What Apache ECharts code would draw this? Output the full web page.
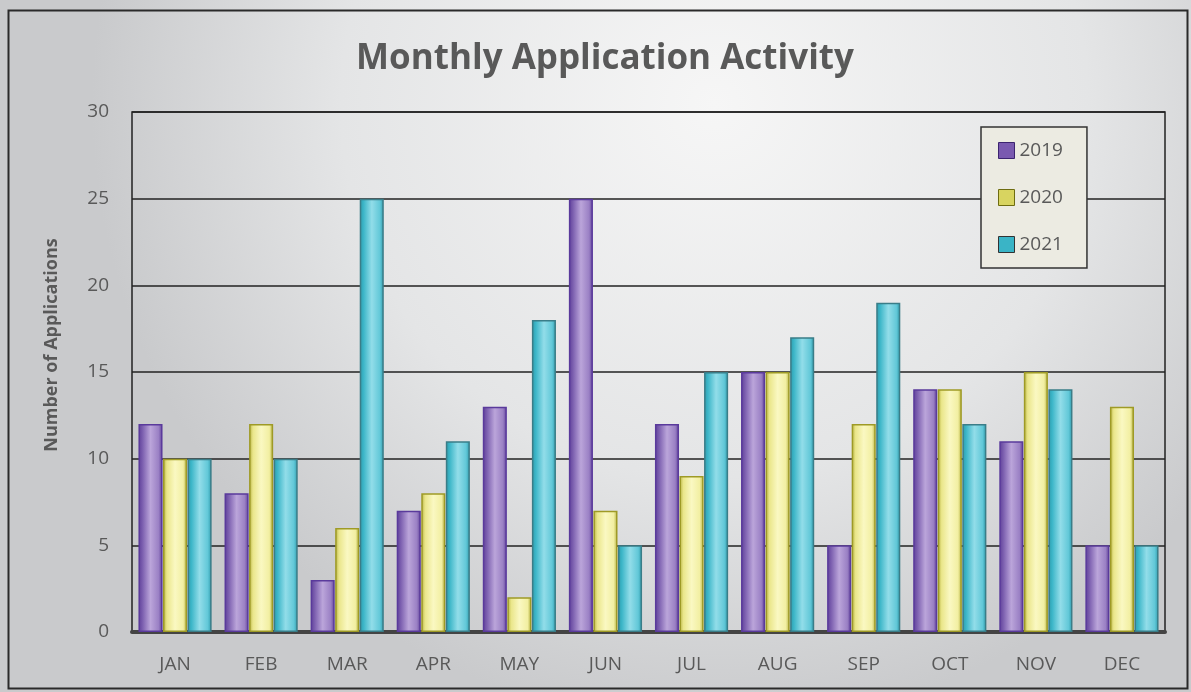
<!DOCTYPE html>
<html><head><meta charset="utf-8">
<script src="https://cdn.jsdelivr.net/npm/echarts@6/dist/echarts.min.js"></script>
<style>html,body{margin:0;padding:0;}#c{width:1191px;height:692px;}</style>
</head><body><div id="c"></div>
<script>
const months = ['JAN','FEB','MAR','APR','MAY','JUN','JUL','AUG','SEP','OCT','NOV','DEC'];
const s2019 = [12, 8, 3, 7, 13, 25, 12, 15, 5, 14, 11, 5];
const s2020 = [10, 12, 6, 8, 2, 7, 9, 15, 12, 14, 15, 13];
const s2021 = [10, 10, 25, 11, 18, 5, 15, 17, 19, 12, 14, 5];
const yTicks = [0, 5, 10, 15, 20, 25, 30];
const yAxisTitle = 'Number of Applications';

function grad(dark, mid, light, edge) {
  return new echarts.graphic.LinearGradient(0, 0, 1, 0, [
    {offset: 0, color: edge},
    {offset: 0.16, color: dark},
    {offset: 0.5, color: light},
    {offset: 0.84, color: mid},
    {offset: 1, color: edge}
  ]);
}
const styles = {
  '2019': {color: grad('#7A5DAE', '#9A80C4', '#BBA5DA', '#5E3F98'), borderColor: '#5A3A9C', legend: '#7A5AB0'},
  '2020': {color: grad('#EAE68A', '#F2EFA2', '#FAF8C2', '#B4B040'), borderColor: '#9E9A26', legend: '#D8D460'},
  '2021': {color: grad('#3CB6C8', '#62C8D8', '#92DDE9', '#2E9AAB'), borderColor: '#3A7D88', legend: '#3AB4C6'}
};
function mk(name, data) {
  const st = styles[name];
  return {
    name: name, type: 'bar', data: data,
    barGap: '2%', barCategoryGap: '15%',
    itemStyle: {color: st.color, borderColor: st.borderColor, borderWidth: 1.5},
  };
}
const chart = echarts.init(document.getElementById('c'));
chart.setOption({
  backgroundColor: new echarts.graphic.RadialGradient(0.6, 0.15, 0.9, [
    {offset: 0, color: '#F6F6F6'},
    {offset: 0.6, color: '#E4E5E6'},
    {offset: 1, color: '#C9CACC'}
  ]),
  animation: false,
  title: {
    text: 'Monthly Application Activity', left: 600, top: 37, textAlign: 'center',
    textStyle: {fontFamily: 'Open Sans', fontWeight: 'bold', fontSize: 35, color: '#595959'}
  },
  graphic: [{
    type: 'rect', left: 6, top: 8, shape: {width: 1179, height: 678},
    style: {fill: 'none', stroke: '#2a2a2a', lineWidth: 2}, silent: true
  }, {
    type: 'text', x: 52, y: 345, rotation: Math.PI / 2,
    style: {text: yAxisTitle, align: 'center', verticalAlign: 'middle',
      fontFamily: 'Open Sans', fontWeight: 'bold', fontSize: 18, fill: '#595959'}
  }],
  legend: {
    orient: 'vertical', left: 981, top: 127,
    padding: [14, 24, 14, 17], itemGap: 28,
    backgroundColor: '#ECEBE2', borderColor: '#333', borderWidth: 1.5,
    itemWidth: 16, itemHeight: 16, icon: 'rect',
    textStyle: {fontFamily: 'Open Sans', fontSize: 19, color: '#595959', lineHeight: 19},
    data: [
      {name: '2019', itemStyle: {color: styles['2019'].legend, borderColor: '#3C2470', borderWidth: 1}},
      {name: '2020', itemStyle: {color: styles['2020'].legend, borderColor: '#6E6C10', borderWidth: 1}},
      {name: '2021', itemStyle: {color: styles['2021'].legend, borderColor: '#333', borderWidth: 1}}
    ]
  },
  grid: {left: 132, top: 112, right: 26, bottom: 60, show: true, borderColor: '#222', borderWidth: 1.5, backgroundColor: 'transparent'},
  xAxis: {
    type: 'category', data: months,
    axisLine: {lineStyle: {color: '#444', width: 4}},
    axisTick: {show: false},
    axisLabel: {fontFamily: 'Open Sans', fontSize: 19, color: '#595959', margin: 23}
  },
  yAxis: {
    type: 'value', min: yTicks[0], max: yTicks[yTicks.length - 1], interval: 5,
    axisLine: {show: false}, axisTick: {show: false},
    axisLabel: {fontFamily: 'Open Sans', fontSize: 19, color: '#595959', margin: 23},
    splitLine: {lineStyle: {color: '#222', width: 1.5}}
  },
  series: [mk('2019', s2019), mk('2020', s2020), mk('2021', s2021)]
});
</script></body></html>
